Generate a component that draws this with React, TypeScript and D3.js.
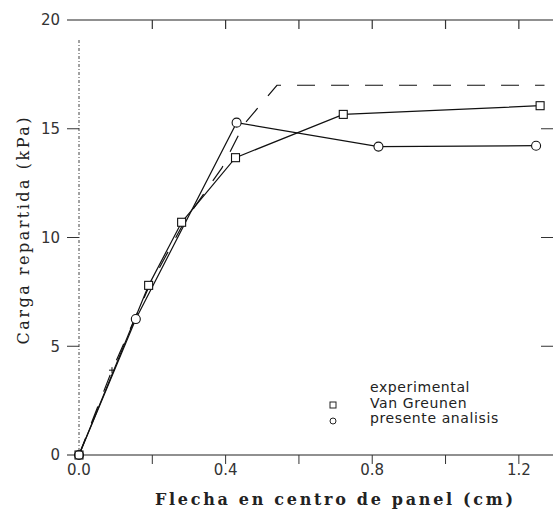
import React from "react";
import * as d3 from "d3";

const xTicks = [0, 0.2, 0.4, 0.6, 0.8, 1.0, 1.2];
const xTickLabels = ["0.0", "0.4", "0.8", "1.2"];
const xLabelValues = [0, 0.4, 0.8, 1.2];
const yTicks = [0, 5, 10, 15, 20];
const yTickLabels = ["0", "5", "10", "15", "20"];

const expX = [0, 0.09, 0.19, 0.29, 0.39, 0.45, 0.54, 1.27];
const expY = [0, 3.9, 7.7, 10.8, 13.2, 15.2, 17.0, 17.0];
const vgX = [0, 0.19, 0.28, 0.427, 0.721, 1.258];
const vgY = [0, 7.8, 10.7, 13.67, 15.66, 16.06];
const paX = [0, 0.155, 0.43, 0.817, 1.247];
const paY = [0, 6.25, 15.28, 14.18, 14.22];

const legendLabels = ["experimental", "Van Greunen", "presente analisis"];

export default function App() {
  const W = 553, H = 511;
  const x = d3.scaleLinear().domain([0, 1.3]).range([79, 555.5]);
  const y = d3.scaleLinear().domain([0, 20]).range([455, 20]);
  const line = d3.line<[number, number]>().x(d => x(d[0])).y(d => y(d[1]));
  const exp = expX.map((v, i) => [v, expY[i]] as [number, number]);
  const vg = vgX.map((v, i) => [v, vgY[i]] as [number, number]);
  const pa = paX.map((v, i) => [v, paY[i]] as [number, number]);
  const sans = "DejaVu Sans, sans-serif";
  const serif = "DejaVu Serif, serif";
  return (
    <svg width={W} height={H} style={{ position: "absolute", left: 0, top: 0, background: "#fff" }}>
      {/* frame */}
      <line x1={67} x2={W} y1={y(20)} y2={y(20)} stroke="#222" strokeWidth={1.2} />
      <line x1={67} x2={W} y1={y(0)} y2={y(0)} stroke="#222" strokeWidth={1.2} />
      <line x1={x(0)} x2={x(0)} y1={40} y2={y(0)} stroke="#444" strokeWidth={1} strokeDasharray="3,2,1,2" />
      {xTicks.filter(t => t > 0).map(t => (
        <g key={"xt" + t}>
          <line x1={x(t)} x2={x(t)} y1={y(0)} y2={y(0) + 9} stroke="#333" strokeWidth={1} />
          <line x1={x(t)} x2={x(t)} y1={y(20)} y2={y(20) + 9} stroke="#333" strokeWidth={1.2} />
        </g>
      ))}
      {yTicks.filter(t => t > 0 && t < 20).map(t => (
        <g key={"yt" + t}>
          <line x1={67} x2={x(0)} y1={y(t)} y2={y(t)} stroke="#333" strokeWidth={1} />
          <line x1={541} x2={W} y1={y(t)} y2={y(t)} stroke="#333" strokeWidth={1} />
        </g>
      ))}
      {yTicks.map((t, i) => (
        <text key={"yl" + t} x={60} y={y(t)} dy="0.36em" textAnchor="end" fontFamily={sans} fontSize={15} fill="#333">
          {yTickLabels[i]}
        </text>
      ))}
      {xLabelValues.map((t, i) => (
        <text key={"xl" + t} x={x(t)} y={475} textAnchor="middle" fontFamily={sans} fontSize={15} fill="#333">
          {xTickLabels[i]}
        </text>
      ))}
      <text x={334} y={505} textAnchor="middle" fontFamily={serif} fontWeight="bold" fontSize={16} fill="#222" textLength={358} lengthAdjust="spacing">
        Flecha en centro de panel (cm)
      </text>
      <text transform="translate(29,231) rotate(-90)" textAnchor="middle" fontFamily={serif} fontSize={16} fill="#222" textLength={227} lengthAdjust="spacing">
        Carga repartida (kPa)
      </text>
      {/* series */}
      <path d={line(exp) || ""} fill="none" stroke="#111" strokeWidth={1.2} strokeDasharray="18,16" />
      <path d={line(vg) || ""} fill="none" stroke="#111" strokeWidth={1.2} />
      <path d={line(pa) || ""} fill="none" stroke="#111" strokeWidth={1.2} />
      {[exp[1]].map((d, i) => (
        <g key={"em" + i} stroke="#111" strokeWidth={1}>
          <line x1={x(d[0]) - 3} x2={x(d[0]) + 3} y1={y(d[1])} y2={y(d[1])} />
          <line x1={x(d[0])} x2={x(d[0])} y1={y(d[1]) - 3} y2={y(d[1]) + 3} />
        </g>
      ))}
      {vg.map((d, i) => (
        <rect key={"vg" + i} x={x(d[0]) - 4} y={y(d[1]) - 4} width={8} height={8} fill="#fff" stroke="#111" strokeWidth={1.1} />
      ))}
      {pa.map((d, i) => (
        <circle key={"pa" + i} cx={x(d[0])} cy={y(d[1])} r={4.5} fill={i === 0 ? "none" : "#fff"} stroke="#111" strokeWidth={1.1} />
      ))}
      {/* legend */}
      {legendLabels.map((l, i) => (
        <text key={"lg" + i} x={370} y={387 + i * 15.5} dy="0.36em" fontFamily={sans} fontSize={14} fill="#222" letterSpacing={0.6}>
          {l}
        </text>
      ))}
      <rect x={330} y={402} width={6} height={6} fill="none" stroke="#222" strokeWidth={1} />
      <circle cx={333} cy={421} r={3} fill="none" stroke="#222" strokeWidth={1} />
    </svg>
  );
}
